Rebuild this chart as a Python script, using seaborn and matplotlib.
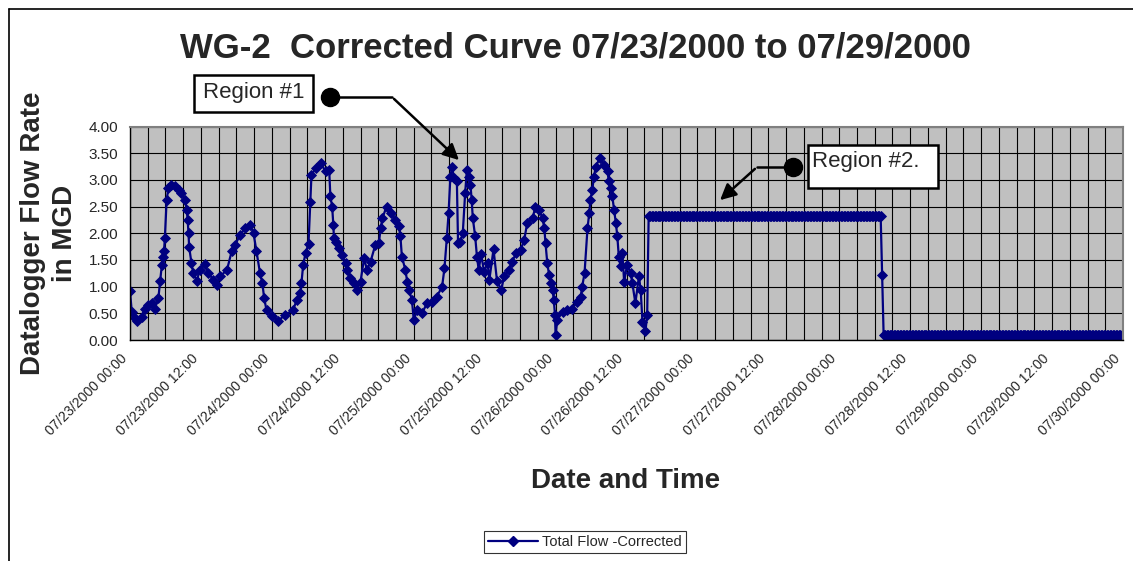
import matplotlib
matplotlib.use("Agg")
import matplotlib.pyplot as plt
import matplotlib.dates as mdates
import matplotlib.transforms as mtransforms
from matplotlib.lines import Line2D
from matplotlib.patches import Rectangle, FancyArrowPatch
import seaborn as sns
import pandas as pd
import numpy as np

# hours after 07/23/2000 00:00 and the corrected flow (MGD)
hours = [
    0.0, 0.3, 0.8, 1.25, 2.0, 2.5, 3.1, 3.7, 4.2, 4.8, 5.1, 5.4, 5.5, 5.75, 5.9,
    6.2, 6.5, 7.0, 7.6, 8.3, 8.7, 9.3, 9.6, 9.75, 9.9, 10.0, 10.4, 10.7, 11.3,
    11.8, 12.7, 13.25, 14.1, 14.7, 15.2, 16.4, 17.2, 17.8, 18.6, 19.5, 20.3,
    20.9, 21.4, 22.0, 22.4, 22.7, 23.1, 24.0, 25.1, 26.2, 27.6, 28.2, 28.8,
    29.0, 29.3, 29.7, 30.2, 30.5, 30.7, 31.4, 32.25, 33.1, 33.7, 33.9, 34.2,
    34.4, 34.5, 34.8, 35.3, 35.9, 36.5, 36.75, 37.3, 37.9, 38.4, 39.0, 39.6,
    40.1, 40.7, 41.5, 42.1, 42.4, 42.7, 43.4, 44.1, 44.9, 45.5, 45.75, 46.0,
    46.6, 46.9, 47.2, 47.7, 48.0, 48.6, 49.4, 50.25, 51.1, 51.9, 52.8, 53.2,
    53.6, 53.9, 54.2, 54.5, 54.8, 55.3, 55.5, 55.9, 56.3, 56.7, 57.0, 57.4,
    57.6, 57.8, 58.0, 58.4, 58.7, 59.0, 59.4, 59.9, 60.5, 60.8, 61.5, 62.1,
    62.8, 63.3, 64.1, 64.7, 65.3, 66.1, 66.7, 67.2, 68.1, 68.6, 69.2, 69.8,
    70.1, 70.3, 70.6, 70.9, 71.2, 71.5, 71.7, 71.9, 72.0, 72.3, 73.2, 74.0,
    74.8, 75.7, 76.25, 76.5, 76.9, 77.4, 77.7, 77.9, 78.2, 78.5, 78.8, 79.5,
    80.2, 80.8, 81.0, 81.3, 81.6, 81.9, 82.2, 82.45, 82.7, 83.0, 83.3, 83.6,
    84.1, 84.7, 85.0, 85.5, 86.1, 86.4, 86.7, 87.2, 87.5,
]
flow = [
    0.91, 0.53, 0.41, 0.36, 0.44, 0.59, 0.66, 0.69, 0.59, 0.78, 1.11, 1.41, 1.56, 1.66, 1.91,
    2.63, 2.84, 2.91, 2.88, 2.81, 2.75, 2.63, 2.44, 2.25, 2.00, 1.75, 1.44, 1.25, 1.11,
    1.31, 1.43, 1.25, 1.13, 1.03, 1.19, 1.31, 1.66, 1.78, 1.97, 2.09, 2.16,
    2.00, 1.66, 1.25, 1.06, 0.78, 0.56, 0.45, 0.36, 0.47, 0.56, 0.75, 0.88,
    1.06, 1.41, 1.63, 1.80, 2.58, 3.09, 3.22, 3.31, 3.16, 3.19, 2.69, 2.50,
    2.16, 1.91, 1.84, 1.72, 1.59, 1.44, 1.31, 1.16, 1.06, 0.94, 1.09, 1.53,
    1.31, 1.47, 1.78, 1.81, 2.09, 2.28, 2.50, 2.38, 2.25, 2.13, 1.94, 1.56,
    1.31, 1.09, 0.94, 0.75, 0.38, 0.56, 0.50, 0.69, 0.72, 0.81, 1.00, 1.34,
    1.91, 2.38, 3.06, 3.25, 3.03, 2.98, 1.81, 1.84, 2.00, 2.75, 3.19, 3.06,
    2.91, 2.63, 2.28, 1.94, 1.56, 1.31, 1.61, 1.28, 1.44, 1.13, 1.70, 1.10,
    0.94, 1.19, 1.31, 1.47, 1.63, 1.69, 1.88, 2.19, 2.28, 2.50, 2.44, 2.28,
    2.09, 1.81, 1.44, 1.22, 1.06, 0.94, 0.75, 0.47, 0.09, 0.38, 0.53, 0.56,
    0.59, 0.72, 0.81, 1.00, 1.25, 2.09, 2.38, 2.63, 2.81, 3.06, 3.25, 3.41,
    3.28, 3.16, 2.97, 2.84, 2.69, 2.44, 2.19, 1.94, 1.56, 1.38, 1.63, 1.09,
    1.41, 1.25, 1.06, 0.69, 1.19, 0.94, 0.34, 0.16, 0.47,
]

# region #2: flat values logged every 15 minutes
plateau_start, plateau_end, plateau_level = 87.75, 127.0, 2.33
step_hour, step_level = 127.25, 1.22
tail_start, tail_end, tail_level = 127.5, 168.0, 0.10

start = pd.Timestamp("2000-07-23 00:00")

plateau_h = np.arange(plateau_start, plateau_end + 0.01, 0.25)
tail_h = np.arange(tail_start, tail_end + 0.01, 0.25)
all_h = np.concatenate([hours, plateau_h, [step_hour], tail_h])
all_v = np.concatenate([flow, np.full(len(plateau_h), plateau_level), [step_level],
                        np.full(len(tail_h), tail_level)])

df = pd.DataFrame({"time": start + pd.to_timedelta(all_h, unit="h"), "flow": all_v})

W, H = 1133, 561


def fx(x, y):
    # pixel position -> figure fraction
    return x / W, 1 - y / H


sns.set_style("white")
plt.rcParams["font.family"] = ["Liberation Sans", "DejaVu Sans"]

fig = plt.figure(figsize=(W / 100, H / 100), dpi=100)
ax = fig.add_axes([130 / W, 1 - 340 / H, (1123 - 130) / W, (340 - 126.5) / H])
ax.set_facecolor("#C0C0C0")

sns.lineplot(data=df, x="time", y="flow", ax=ax, color="#000080", marker="D",
             markersize=5.5, markeredgecolor="#000080", markeredgewidth=0.6,
             linewidth=1.6, label="Total Flow -Corrected", legend=False)

ax.set_xlim(start, start + pd.Timedelta(hours=168))
ax.set_ylim(0, 4)
ax.set_yticks(np.arange(0, 4.01, 0.5))
ax.yaxis.set_major_formatter(matplotlib.ticker.FormatStrFormatter("%.2f"))
ax.xaxis.set_major_locator(mdates.HourLocator(byhour=[0, 12]))
ax.xaxis.set_minor_locator(mdates.HourLocator(byhour=range(0, 24, 3)))
ax.xaxis.set_major_formatter(mdates.DateFormatter("%m/%d/%Y %H:%M"))

ax.grid(True, which="both", axis="x", color="black", linewidth=0.8)
ax.grid(True, which="major", axis="y", color="black", linewidth=0.8)
ax.set_axisbelow(True)
ax.tick_params(axis="both", which="both", direction="out", length=5, color="black",
               width=0.8, labelsize=11)
ax.tick_params(axis="x", which="major", labelsize=10, pad=2)
shift = mtransforms.ScaledTranslation(-10 / 100, -2 / 100, fig.dpi_scale_trans)
for lab in ax.get_xticklabels():
    lab.set_rotation(45)
    lab.set_ha("right")
    lab.set_rotation_mode("anchor")
    lab.set_transform(lab.get_transform() + shift)

for side in ["left", "bottom"]:
    ax.spines[side].set_color("black")
    ax.spines[side].set_linewidth(1.0)
for side in ["top", "right"]:
    ax.spines[side].set_color("#808080")
    ax.spines[side].set_linewidth(1.5)

ax.set_xlabel("")
ax.set_ylabel("")
fig.text(*fx(575, 48), "WG-2  Corrected Curve 07/23/2000 to 07/29/2000",
         ha="center", va="center", fontsize=25, fontweight="bold")
fig.text(*fx(49, 233), "Datalogger Flow Rate\nin MGD", ha="center", va="center",
         rotation=90, fontsize=20, fontweight="bold", linespacing=1.3)
fig.text(*fx(626, 481), "Date and Time", ha="center", va="center",
         fontsize=20, fontweight="bold")

# legend
handle = Line2D([], [], color="#000080", marker="D", markersize=5, linewidth=1.6)
leg = fig.legend([handle], ["Total Flow -Corrected"], loc="center",
                 bbox_to_anchor=fx(585, 542), fontsize=10.5, frameon=True,
                 fancybox=False, edgecolor="black", handlelength=3.4,
                 borderpad=0.3, handletextpad=0.3)
leg.get_frame().set_linewidth(0.8)

# chart-area border (left and top)
fig.add_artist(Line2D([fx(8.5, 0)[0]] * 2, [fx(0, 9)[1], 0], color="black", lw=1.2))
fig.add_artist(Line2D([fx(8.5, 0)[0], 1], [fx(0, 9)[1]] * 2, color="black", lw=1.2))


# callouts
def callout(box, text, text_xy, ha, circle, elbow, tip):
    x0, y0, x1, y1 = box
    fig.add_artist(Rectangle(fx(x0, y1), (x1 - x0) / W, (y1 - y0) / H,
                             transform=fig.transFigure, facecolor="white",
                             edgecolor="black", linewidth=1.8, zorder=5))
    fig.text(*fx(*text_xy), text, ha=ha, va="center", fontsize=16, zorder=6)
    fig.add_artist(Line2D([fx(*circle)[0], fx(*elbow)[0]], [fx(*circle)[1], fx(*elbow)[1]],
                          color="black", lw=1.8, zorder=5))
    fig.add_artist(Line2D([fx(*circle)[0]], [fx(*circle)[1]], marker="o", markersize=13,
                          color="black", zorder=6))
    fig.add_artist(FancyArrowPatch(fx(*elbow), fx(*tip), transform=fig.transFigure,
                                   arrowstyle="-|>", mutation_scale=24, color="black",
                                   lw=1.8, zorder=5))


callout((194, 75, 313, 112), "Region #1", (254, 92), "center",
        (330, 97), (392, 97), (461, 162))
callout((808, 145, 938, 188), "Region #2.", (812, 161), "left",
        (793, 167), (757, 167), (718, 202))

fig.savefig("out.png", dpi=100)
